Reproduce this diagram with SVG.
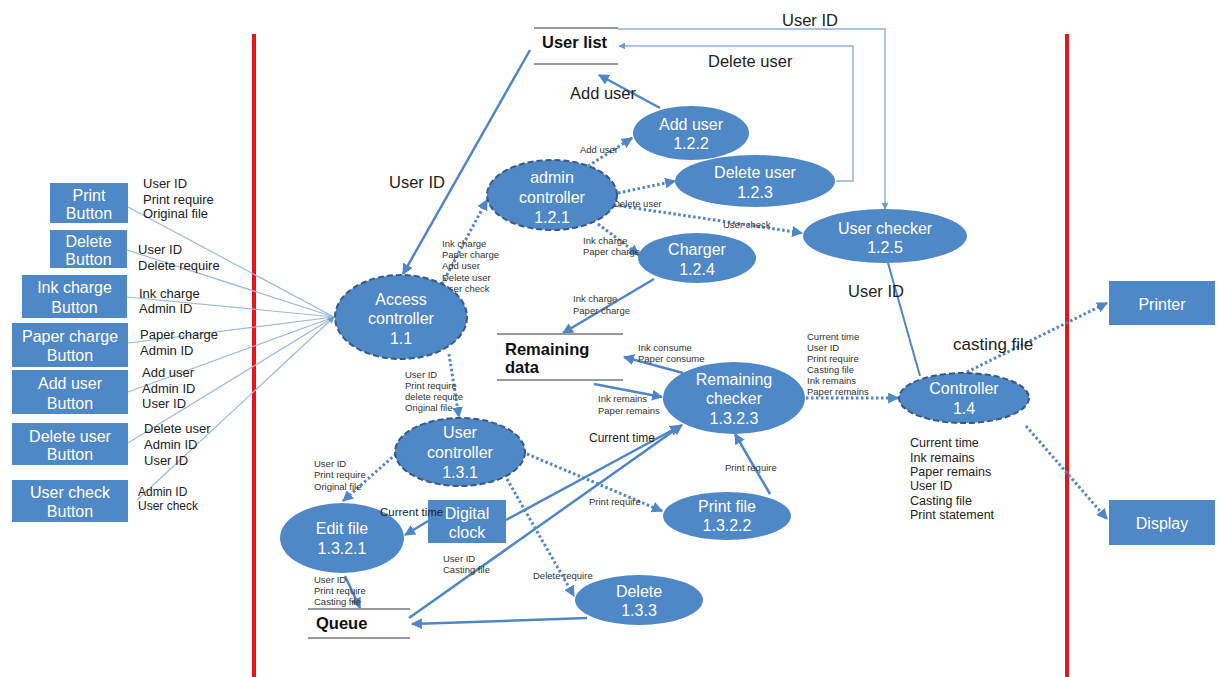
<svg xmlns="http://www.w3.org/2000/svg" width="1221" height="677" viewBox="0 0 1221 677">
<style>
text{font-family:"Liberation Sans",Arial,sans-serif;}
.node{fill:#4f88c6;}
.dnode{fill:#4f88c6;stroke:#3a5a82;stroke-width:2;stroke-dasharray:6 3;}
.nt{fill:#ffffff;font-size:16px;text-anchor:middle;}
.bl{fill:#222;font-size:13px;}
.sm{fill:#333;font-size:9.5px;}
.md{fill:#222;font-size:12.5px;}
.big{fill:#222;font-size:16.5px;}
.store{font-weight:bold;font-size:16.5px;fill:#111;}
.sline{stroke:#999;stroke-width:2;}
.solid{stroke:#4f86c6;stroke-width:2.5;fill:none;}
.dot{stroke:#4f86c6;stroke-width:3;fill:none;stroke-dasharray:2.5 2.5;}
.thin{stroke:#8fb3dd;stroke-width:1.5;fill:none;}
.fan{stroke:#9db8da;stroke-width:1.2;fill:none;}
.red{stroke:#e8141a;stroke-width:4;}
</style>
<defs>
<marker id="ah" viewBox="0 0 10 10" refX="9" refY="5" markerWidth="11" markerHeight="11" markerUnits="userSpaceOnUse" orient="auto"><path d="M0,0 L10,5 L0,10 z" fill="#4f86c6"/></marker>
<marker id="ahs" viewBox="0 0 10 10" refX="9" refY="5" markerWidth="7" markerHeight="7" markerUnits="userSpaceOnUse" orient="auto"><path d="M0,0 L10,5 L0,10 z" fill="#6f9bd0"/></marker>
</defs>
<rect width="1221" height="677" fill="#ffffff"/>

<g id="boundaries">
<line class="red" x1="254" y1="34" x2="254" y2="677"/>
<line class="red" x1="1067" y1="34" x2="1067" y2="677"/>
</g>

<g id="connectors">
<line class="fan" x1="128" y1="207" x2="334" y2="317"/>
<line class="fan" x1="127" y1="250" x2="334" y2="317"/>
<line class="fan" x1="127" y1="297" x2="334" y2="317"/>
<line class="fan" x1="128" y1="343" x2="334" y2="317"/>
<line class="fan" x1="128" y1="392" x2="334" y2="317"/>
<line class="fan" x1="128" y1="443" x2="334" y2="317"/>
<line class="fan" x1="137" y1="500" x2="334" y2="317" marker-end="url(#ahs)"/>
<line class="solid" x1="530" y1="50" x2="403" y2="274" marker-end="url(#ah)"/>
<line class="solid" x1="660" y1="108" x2="599" y2="75" marker-end="url(#ah)"/>
<polyline class="thin" points="836,181 853,181 853,46 619,46" marker-end="url(#ahs)"/>
<polyline class="thin" points="618,29 885,29 885,209" marker-end="url(#ahs)"/>
<line class="dot" x1="588" y1="166" x2="632" y2="138" marker-end="url(#ah)"/>
<line class="dot" x1="618" y1="193" x2="675" y2="181" marker-end="url(#ah)"/>
<line class="dot" x1="614" y1="205" x2="802" y2="233" marker-end="url(#ah)"/>
<line class="dot" x1="598" y1="224" x2="639" y2="255" marker-end="url(#ah)"/>
<line class="dot" x1="442" y1="284" x2="487" y2="200" marker-end="url(#ah)"/>
<line class="solid" x1="654" y1="279" x2="563" y2="333" marker-end="url(#ah)"/>
<line class="solid" x1="683" y1="373" x2="624" y2="357" marker-end="url(#ah)"/>
<line class="solid" x1="594" y1="384" x2="662" y2="397" marker-end="url(#ah)"/>
<line class="dot" x1="806" y1="398" x2="898" y2="398" marker-end="url(#ah)"/>
<line class="solid" x1="888" y1="263" x2="920" y2="376" style="stroke-width:2"/>
<line class="dot" x1="967" y1="372" x2="1107" y2="303" marker-end="url(#ah)"/>
<line class="dot" x1="1026" y1="426" x2="1107" y2="519" marker-end="url(#ah)"/>
<line class="dot" x1="449" y1="354" x2="459" y2="417" marker-end="url(#ah)"/>
<line class="dot" x1="396" y1="454" x2="343" y2="501" marker-end="url(#ah)"/>
<line class="dot" x1="527" y1="454" x2="662" y2="511" marker-end="url(#ah)"/>
<line class="dot" x1="507" y1="479" x2="574" y2="596" marker-end="url(#ah)"/>
<line class="solid" x1="428" y1="521" x2="405" y2="535" marker-end="url(#ah)"/>
<line class="solid" x1="506" y1="520" x2="680" y2="426" marker-end="url(#ah)"/>
<line class="solid" x1="409" y1="618" x2="682" y2="425" marker-end="url(#ah)"/>
<line class="solid" x1="587" y1="618" x2="412" y2="624" marker-end="url(#ah)"/>
<line class="solid" x1="345" y1="576" x2="360" y2="608" marker-end="url(#ah)"/>
<line class="solid" x1="770" y1="494" x2="735" y2="434" marker-end="url(#ah)"/>
</g>

<g id="labels">
<text class="big" x="389" y="188">User ID</text>
<text class="big" x="570" y="99">Add user</text>
<text class="big" x="708" y="67">Delete user</text>
<text class="big" x="782" y="26">User ID</text>
<text class="big" x="848" y="297">User ID</text>
<text class="big" x="953" y="350" style="font-size:17px">casting file</text>
<text class="sm" x="580" y="153">Add user</text>
<text class="sm" x="613" y="207">Delete user</text>
<text class="sm" x="723" y="228">User check</text>
<text class="sm" x="583" y="244">Ink charge</text>
<text class="sm" x="583" y="255">Paper charge</text>
<text class="sm" x="442" y="246.5">Ink charge</text>
<text class="sm" x="442" y="257.5">Paper charge</text>
<text class="sm" x="442" y="269">Add user</text>
<text class="sm" x="442" y="280.5">Delete user</text>
<text class="sm" x="442" y="291.5">User check</text>
<text class="sm" x="573" y="301.5">Ink charge</text>
<text class="sm" x="573" y="313.5">Paper charge</text>
<text class="sm" x="638" y="350.5">Ink consume</text>
<text class="sm" x="638" y="361.5">Paper consume</text>
<text class="sm" x="598" y="401.5">Ink remains</text>
<text class="sm" x="598" y="413.5">Paper remains</text>
<text class="sm" x="807" y="339.5">Current time</text>
<text class="sm" x="807" y="350.5">User ID</text>
<text class="sm" x="807" y="361.5">Print require</text>
<text class="sm" x="807" y="372.5">Casting file</text>
<text class="sm" x="807" y="383.5">Ink remains</text>
<text class="sm" x="807" y="394.5">Paper remains</text>
<text class="md" x="910" y="447">Current time</text>
<text class="md" x="910" y="461.5">Ink remains</text>
<text class="md" x="910" y="476">Paper remains</text>
<text class="md" x="910" y="490">User ID</text>
<text class="md" x="910" y="504.5">Casting file</text>
<text class="md" x="910" y="518.5">Print statement</text>
<text class="sm" x="405" y="377.5">User ID</text>
<text class="sm" x="405" y="388.5">Print require</text>
<text class="sm" x="405" y="399.5">delete require</text>
<text class="sm" x="405" y="410.5">Original file</text>
<text class="sm" x="314" y="466.5">User ID</text>
<text class="sm" x="314" y="478">Print require</text>
<text class="sm" x="314" y="489.5">Original file</text>
<text class="sm" x="589" y="504.5">Print require</text>
<text class="sm" x="533" y="578.5">Delete require</text>
<text class="sm" x="725" y="470.5">Print require</text>
<text class="sm" x="443" y="561.5">User ID</text>
<text class="sm" x="443" y="573">Casting file</text>
<text class="sm" x="314" y="582.5">User ID</text>
<text class="sm" x="314" y="593.5">Print require</text>
<text class="sm" x="314" y="604.5">Casting file</text>
<text class="md" x="589" y="442" style="font-size:12px">Current time</text>
<text class="bl" x="143" y="187.5">User ID</text>
<text class="bl" x="143" y="203.5">Print require</text>
<text class="bl" x="143" y="217.5">Original file</text>
<text class="bl" x="138" y="253.5">User ID</text>
<text class="bl" x="138" y="269.5">Delete require</text>
<text class="bl" x="139" y="297.5">Ink charge</text>
<text class="bl" x="139" y="312.5">Admin ID</text>
<text class="bl" x="140" y="338.5">Paper charge</text>
<text class="bl" x="140" y="354.5">Admin ID</text>
<text class="bl" x="142" y="376.5">Add user</text>
<text class="bl" x="142" y="392.5">Admin ID</text>
<text class="bl" x="142" y="407.5">User ID</text>
<text class="bl" x="144" y="432.5">Delete user</text>
<text class="bl" x="144" y="448.5">Admin ID</text>
<text class="bl" x="144" y="464.5">User ID</text>
<text class="bl" x="138" y="496" style="font-size:12px">Admin ID</text>
<text class="bl" x="138" y="510" style="font-size:12px">User check</text>
</g>

<g id="btn-print"><rect class="node" x="50" y="183" width="78" height="40"/><text class="nt" x="89" y="201">Print</text><text class="nt" x="89" y="219">Button</text></g>
<g id="btn-delete"><rect class="node" x="50" y="230" width="77" height="38"/><text class="nt" x="88.5" y="247">Delete</text><text class="nt" x="88.5" y="265">Button</text></g>
<g id="btn-ink"><rect class="node" x="22" y="275" width="105" height="43"/><text class="nt" x="74.5" y="293">Ink charge</text><text class="nt" x="74.5" y="313">Button</text></g>
<g id="btn-paper"><rect class="node" x="12" y="323" width="116" height="44"/><text class="nt" x="70" y="342">Paper charge</text><text class="nt" x="70" y="361">Button</text></g>
<g id="btn-adduser"><rect class="node" x="12" y="370" width="116" height="44"/><text class="nt" x="70" y="389">Add user</text><text class="nt" x="70" y="409">Button</text></g>
<g id="btn-deleteuser"><rect class="node" x="12" y="423" width="116" height="42"/><text class="nt" x="70" y="442">Delete user</text><text class="nt" x="70" y="460">Button</text></g>
<g id="btn-usercheck"><rect class="node" x="12" y="480" width="116" height="42"/><text class="nt" x="70" y="498">User check</text><text class="nt" x="70" y="517">Button</text></g>

<g id="store-userlist"><line class="sline" x1="534" y1="28" x2="618" y2="28"/><line class="sline" x1="534" y1="64" x2="618" y2="64"/><text class="store" x="542" y="48">User list</text></g>
<g id="store-remaining"><line class="sline" x1="497" y1="334" x2="623" y2="334"/><line class="sline" x1="497" y1="380" x2="623" y2="380"/><text class="store" x="505" y="355">Remaining</text><text class="store" x="505" y="373">data</text></g>
<g id="store-queue"><line class="sline" x1="308" y1="609" x2="410" y2="609"/><line class="sline" x1="308" y1="638" x2="410" y2="638"/><text class="store" x="316" y="629">Queue</text></g>

<g id="access-controller"><ellipse class="dnode" cx="401" cy="317" rx="66" ry="42"/><text class="nt" x="401" y="305">Access</text><text class="nt" x="401" y="324">controller</text><text class="nt" x="401" y="344">1.1</text></g>
<g id="admin-controller"><ellipse class="dnode" cx="552" cy="195" rx="65" ry="35"/><text class="nt" x="552" y="183">admin</text><text class="nt" x="552" y="203">controller</text><text class="nt" x="552" y="223">1.2.1</text></g>
<g id="add-user"><ellipse class="node" cx="691" cy="133" rx="58" ry="27"/><text class="nt" x="691" y="130">Add user</text><text class="nt" x="691" y="149">1.2.2</text></g>
<g id="delete-user"><ellipse class="node" cx="755" cy="181" rx="80" ry="26"/><text class="nt" x="755" y="178">Delete user</text><text class="nt" x="755" y="198">1.2.3</text></g>
<g id="charger"><ellipse class="node" cx="697" cy="258" rx="59" ry="25"/><text class="nt" x="697" y="255">Charger</text><text class="nt" x="697" y="275">1.2.4</text></g>
<g id="user-checker"><ellipse class="node" cx="885" cy="236" rx="82" ry="27"/><text class="nt" x="885" y="234">User checker</text><text class="nt" x="885" y="253">1.2.5</text></g>
<g id="remaining-checker"><ellipse class="node" cx="734" cy="398" rx="71" ry="36"/><text class="nt" x="734" y="385">Remaining</text><text class="nt" x="734" y="404">checker</text><text class="nt" x="734" y="424">1.3.2.3</text></g>
<g id="controller"><ellipse class="dnode" cx="964" cy="398" rx="65" ry="25"/><text class="nt" x="964" y="394">Controller</text><text class="nt" x="964" y="414">1.4</text></g>
<g id="user-controller"><ellipse class="dnode" cx="460" cy="452" rx="65" ry="34"/><text class="nt" x="460" y="438">User</text><text class="nt" x="460" y="458">controller</text><text class="nt" x="460" y="478">1.3.1</text></g>
<g id="edit-file"><ellipse class="node" cx="342" cy="538" rx="62" ry="35"/><text class="nt" x="342" y="534">Edit file</text><text class="nt" x="342" y="554">1.3.2.1</text></g>
<g id="digital-clock"><rect class="node" x="428" y="500" width="78" height="43"/><text class="nt" x="467" y="519">Digital</text><text class="nt" x="467" y="538">clock</text></g>
<g id="print-file"><ellipse class="node" cx="727" cy="516" rx="64" ry="24"/><text class="nt" x="727" y="512">Print file</text><text class="nt" x="727" y="531">1.3.2.2</text></g>
<g id="delete"><ellipse class="node" cx="639" cy="600" rx="64" ry="25"/><text class="nt" x="639" y="597">Delete</text><text class="nt" x="639" y="616">1.3.3</text></g>
<g id="printer"><rect class="node" x="1109" y="281" width="106" height="44"/><text class="nt" x="1162" y="310">Printer</text></g>
<g id="display"><rect class="node" x="1109" y="500" width="106" height="45"/><text class="nt" x="1162" y="529">Display</text></g>

<g id="overlay-label"><text class="sm" x="380" y="516" style="font-size:11.5px;fill:#222">Current time</text></g>
</svg>
